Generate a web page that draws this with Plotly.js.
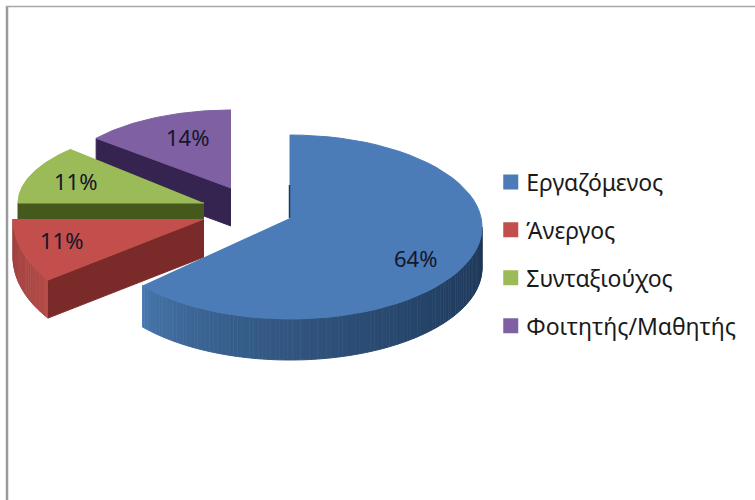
<!DOCTYPE html>
<html><head><meta charset="utf-8">
<script src="https://cdn.plot.ly/plotly-3.0.1.min.js"></script>
<style>html,body{margin:0;padding:0;background:#fff}#c{width:755px;height:500px}</style>
</head><body><div id="c"></div>
<script>
// Data
const categories = ['Εργαζόμενος','Άνεργος','Συνταξιούχος','Φοιτητής/Μαθητής'];
const percentValues = [64, 11, 11, 14];

// Styling: colours per slice
const topColors   = ['#4b7cb8','#c24f4c','#9bba58','#7f61a3'];
const cutColors   = [null,'#7a2b29','#46591c','#34244f'];
const wallFrom    = ['#4a7bb2','#b34b47',null,null];
const wallTo      = ['#1c3555','#9c403d',null,null];

// Layout of the projected exploded pie (pixel units of the hidden axes)
const centerX = [290,204,204,231];
const centerY = [227,219,203,188];
const apexY   = [218,219,203,188];
const radiusX = [192,191,186,175];
const radiusY = [92,106,77,78];
const startNudge = [0,4.4,0,0];
const endNudge   = [0,0,4.8,0];
const depth = 38;
const labelX = [415,61,75,187];
const labelY = [258,240,181,137];

const rad = d => d*Math.PI/180;
const pt = (i,a,dy=0) => [centerX[i]+radiusX[i]*Math.sin(rad(a)), centerY[i]-radiusY[i]*Math.cos(rad(a))+dy];
const arc = (i,a,b,dy=0,n=60) => { const o=[]; for(let k=0;k<=n;k++) o.push(pt(i,a+(b-a)*k/n,dy)); return o; };
const hex = c => [1,3,5].map(p=>parseInt(c.substr(p,2),16));
const mix = (a,b,t) => { const A=hex(a),B=hex(b); return 'rgb('+A.map((v,k)=>Math.round(v+(B[k]-v)*t)).join(',')+')'; };
const poly = (pts,color) => ({type:'scatter',mode:'lines',x:pts.map(p=>p[0]),y:pts.map(p=>p[1]),fill:'toself',fillcolor:color,
  line:{color:color,width:1},showlegend:false,hoverinfo:'skip'});

// angle spans from the values
const total = percentValues.reduce((s,v)=>s+v,0);
let acc = 0;
const spans = percentValues.map(v=>{const a=acc; acc+=v; return [a/total*360, acc/total*360];});

const traces = [];
function slice(i){
  const a = spans[i][0]+startNudge[i], b = spans[i][1]+endNudge[i];
  const apex=[centerX[i],apexY[i]];
  // cut face that looks at the viewer
  if(i>0){
    const e=pt(i,a);
    traces.push(poly([apex,e,[e[0],e[1]+depth],[apex[0],apex[1]+depth]],cutColors[i]));
  }
  // outer wall strips
  if(wallFrom[i]){
    const lo = i===0?90:a, hi = i===0 ? b : 270;
    const from = i===0?hi:lo, to = i===0?lo:hi;
    const N=i===0?110:24;
    for(let k=0;k<N;k++){
      const p=from+(to-from)*k/N, q=from+(to-from)*(k+1)/N;
      const t=(k+0.5)/N;
      const top=arc(i,p,q,0,2), bot=arc(i,q,p,depth+(i===0?3:0),2);
      traces.push(poly(top.concat(bot),mix(wallFrom[i],wallTo[i],i===0?Math.pow(t,0.6):t)));
    }
  }
  // top face
  traces.push(poly([apex].concat(arc(i,a,b)),topColors[i]));
}
[3,2,1,0].forEach(slice);

// dark sliver of the blue inner face
const s0=pt(0,0);
traces.push({type:'scatter',mode:'lines',x:[s0[0]-0.5,s0[0]-0.5],y:[s0[1]+50,apexY[0]],line:{color:'#1f3a5c',width:1.5},showlegend:false,hoverinfo:'skip'});

// legend entries
categories.forEach((c,i)=>traces.push({type:'scatter',mode:'markers',x:[null],y:[null],name:c,legendgroup:c,
  marker:{symbol:'square',size:15,color:topColors[i]},hoverinfo:'skip'}));

const annotations = percentValues.map((v,i)=>({x:labelX[i],y:labelY[i],xref:'x',yref:'y',text:v+'%',showarrow:false,
  font:{family:'Noto Sans, sans-serif',size:22,color:'#16162a'}}));

const layout = {
  width:755,height:500,margin:{l:0,r:0,t:0,b:0},paper_bgcolor:'#fff',plot_bgcolor:'#fff',
  xaxis:{range:[0,755],visible:false,fixedrange:true},
  yaxis:{range:[500,0],visible:false,fixedrange:true},
  showlegend:true,
  legend:{x:0.650,xanchor:'left',y:0.492,yanchor:'middle',tracegroupgap:15,font:{family:'Noto Sans, sans-serif',size:23,color:'#1a1a1a'},
    itemwidth:30,bgcolor:'rgba(0,0,0,0)'},
  annotations,
  shapes:[
    {type:'line',xref:'x',yref:'y',x0:7,x1:7,y0:6,y1:500,line:{color:'#9a9a9a',width:2.5}},
    {type:'line',xref:'x',yref:'y',x0:6,x1:755,y0:6.5,y1:6.5,line:{color:'#a8a8a8',width:1.5}}
  ]
};
Plotly.newPlot('c',traces,layout,{displayModeBar:false,staticPlot:true}).then(()=>{
  document.querySelectorAll('.legendtext').forEach(t=>t.setAttribute('x',parseFloat(t.getAttribute('x'))-4.5));
});
</script></body></html>
